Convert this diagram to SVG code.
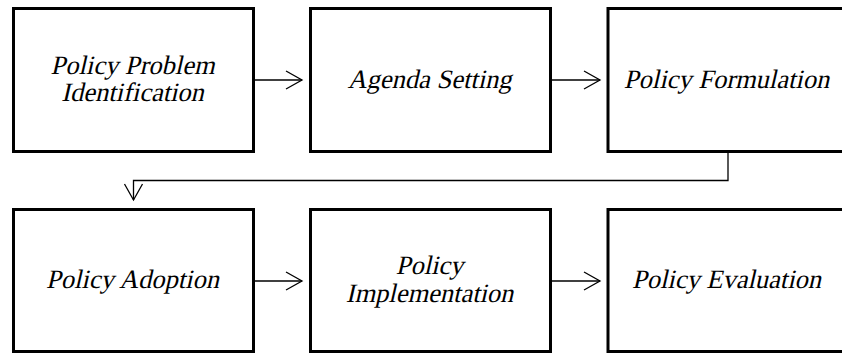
<svg xmlns="http://www.w3.org/2000/svg" width="842" height="356" viewBox="0 0 842 356">
<style>
.box{fill:#fff;stroke:#000;stroke-width:3}
.lbl{font-family:'Liberation Serif','Times New Roman',serif;font-size:26.5px;fill:#000;text-anchor:middle}
.conn{fill:none;stroke:#000;stroke-width:1.3}
</style>
<defs>
<marker id="arr" markerUnits="userSpaceOnUse" markerWidth="20" markerHeight="24" viewBox="-18 -12 20 24" refX="0" refY="0" orient="auto">
<path d="M-16,-9 L0,0 L-16,9" fill="none" stroke="#000" stroke-width="1.3"/>
</marker>
</defs>
<rect width="842" height="356" fill="#fff"/>
<g id="n1"><rect class="box" x="13.5" y="8.5" width="240" height="143"/>
<text class="lbl" transform="translate(132.5,74) skewX(-13)">Policy Problem</text>
<text class="lbl" transform="translate(132.5,100.5) skewX(-13)">Identification</text></g>
<g id="n2"><rect class="box" x="310.5" y="8.5" width="240" height="143"/>
<text class="lbl" transform="translate(429.5,88) skewX(-13)">Agenda Setting</text></g>
<g id="n3"><rect class="box" x="608" y="8.5" width="240" height="143"/>
<text class="lbl" transform="translate(726.5,88) skewX(-13)">Policy Formulation</text></g>
<g id="n4"><rect class="box" x="13.5" y="209.5" width="240" height="142"/>
<text class="lbl" transform="translate(132.5,288) skewX(-13)">Policy Adoption</text></g>
<g id="n5"><rect class="box" x="310.5" y="209.5" width="240" height="142"/>
<text class="lbl" transform="translate(429.5,274) skewX(-13)">Policy</text>
<text class="lbl" transform="translate(429.5,301.5) skewX(-13)">Implementation</text></g>
<g id="n6"><rect class="box" x="608" y="209.5" width="240" height="142"/>
<text class="lbl" transform="translate(726.5,288) skewX(-13)">Policy Evaluation</text></g>
<g id="connectors">
<path class="conn" d="M255,80 H302" marker-end="url(#arr)"/>
<path class="conn" d="M552,80 H600" marker-end="url(#arr)"/>
<path class="conn" d="M728,153 V180.5 H133.5 V200" marker-end="url(#arr)"/>
<path class="conn" d="M255,281 H302" marker-end="url(#arr)"/>
<path class="conn" d="M552,281 H600" marker-end="url(#arr)"/>
</g>
</svg>
